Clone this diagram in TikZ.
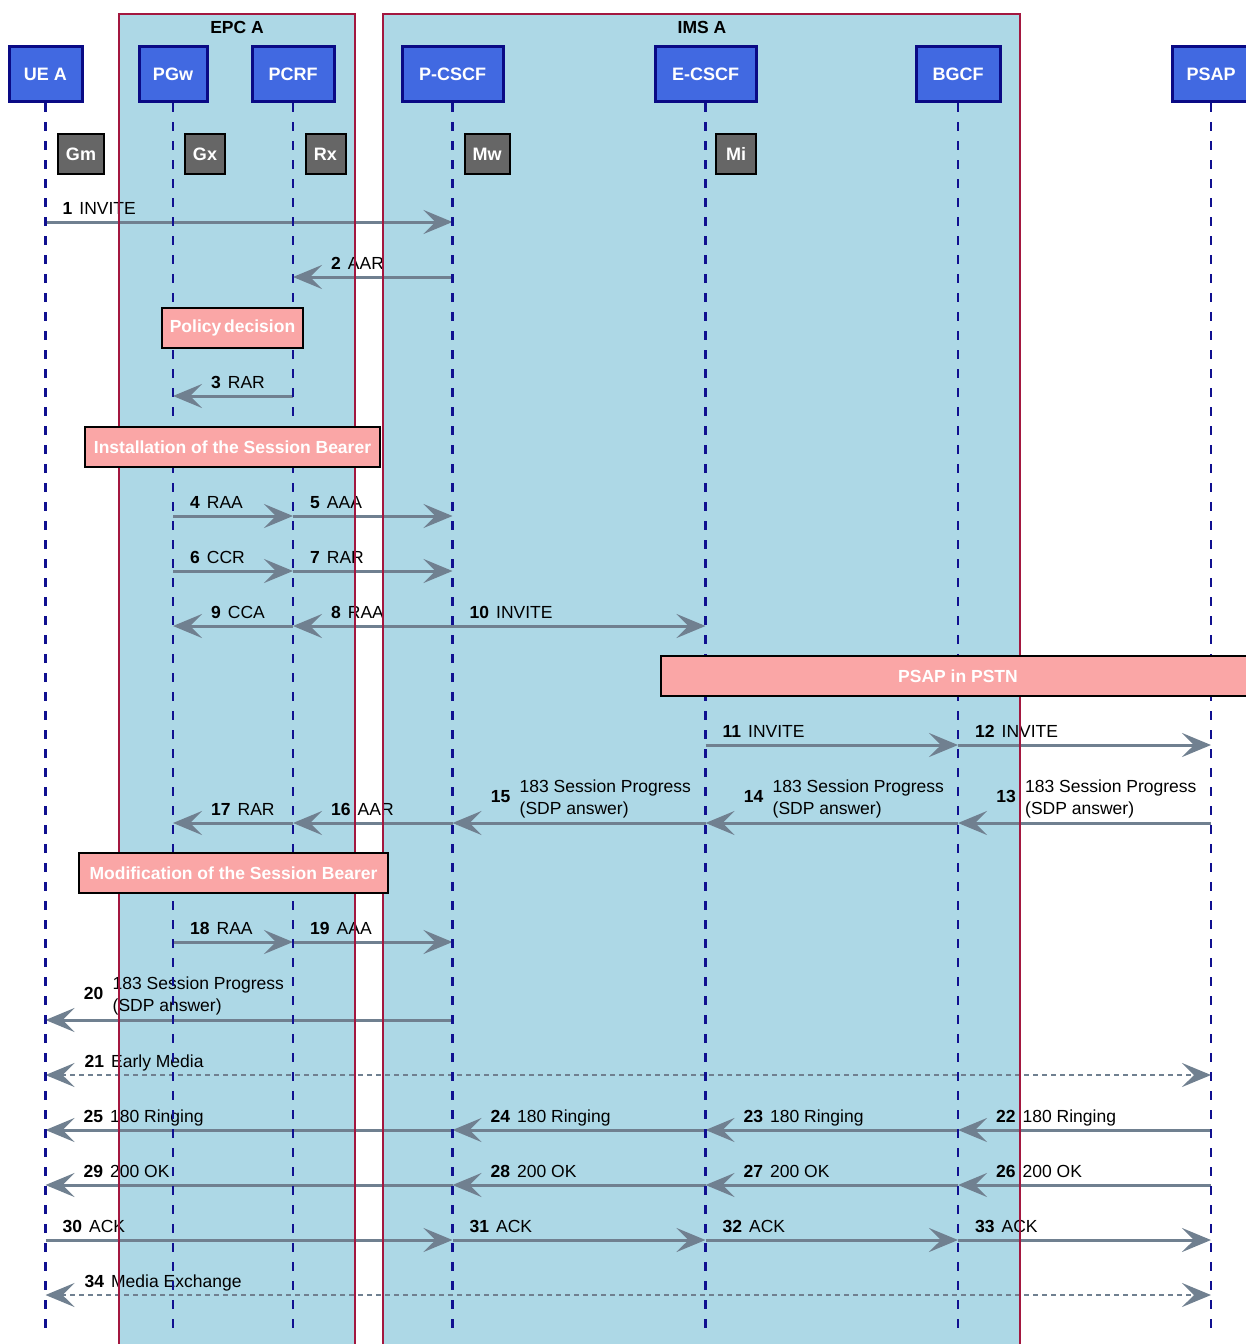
\documentclass[tikz,border=0pt]{standalone}
\usepackage{fontspec}
\setmainfont{Liberation Sans}
\usetikzlibrary{arrows.meta}

\definecolor{grpfill}{HTML}{ADD8E6}
\definecolor{grpline}{HTML}{A3173F}
\definecolor{actfill}{HTML}{4169E1}
\definecolor{actline}{HTML}{0A0A85}
\definecolor{lifeblue}{HTML}{101090}
\definecolor{ifgray}{HTML}{666666}
\definecolor{notefill}{HTML}{FAA6A6}
\definecolor{msggray}{HTML}{708090}

% one-line message to the right: label starts just after the sender
\newcommand\sendR[5]{%
  \draw[msg] (#1 |- #3) -- (#2 |- #3);
  \path (#1 |- #3) ++(17,-8) node[lbl]{\textbf{#4}\hspace{7pt}#5};}
% one-line message to the left: label placed after the arrow tip
\newcommand\sendL[5]{%
  \draw[msg] (#1 |- #3) -- (#2 |- #3);
  \path (#2 |- #3) ++(38,-8) node[lbl]{\textbf{#4}\hspace{7pt}#5};}
% two-line 183 Session Progress message to the left
\newcommand\sendLL[4]{%
  \draw[msg] (#1 |- #3) -- (#2 |- #3);
  \path (#2 |- #3) ++(58,-21) node[lbl,anchor=base east]{\textbf{#4}};
  \path (#2 |- #3) ++(67,-31) node[lbl]{183 Session Progress};
  \path (#2 |- #3) ++(67,-9) node[lbl]{(SDP answer)};}

\begin{document}
\begin{tikzpicture}[x=1pt,y=-1pt,
  actor/.style={draw=actline, line width=3pt, fill=actfill, text=white,
    font=\fontsize{18}{22}\selectfont\bfseries, minimum height=55pt, inner sep=0pt},
  iface/.style={draw=black, line width=2pt, fill=ifgray, text=white,
    font=\fontsize{18}{22}\selectfont\bfseries, minimum height=40pt,
    minimum width=40pt, inner xsep=8pt},
  note/.style={draw=black, line width=2pt, fill=notefill, text=white,
    font=\fontsize{17.5}{22}\selectfont\bfseries, minimum height=40pt, inner sep=0pt},
  grptitle/.style={font=\fontsize{17.5}{22}\selectfont\bfseries, inner sep=0pt},
  life/.style={draw=lifeblue, line width=2.5pt, dash pattern=on 9pt off 10pt},
  tipshape/.tip={Stealth[length=29pt,width=24pt,inset=12pt]},
  msg/.style={draw=msggray, line width=3pt, -tipshape},
  media/.style={draw=msggray, line width=2.5pt, dash pattern=on 5pt off 4pt,
    tipshape-tipshape},
  lbl/.style={anchor=base west, inner sep=0pt, font=\fontsize{17.5}{22}\selectfont},
]
\useasboundingbox (0,0) rectangle (1245,1344);

% domain backgrounds
\fill[grpfill] (119,14) rectangle (355,1350);
\fill[grpfill] (383,14) rectangle (1020,1350);
\node[grptitle] (epct) at (237,27) {EPC A};
\node[grptitle] (imst) at (702,27) {IMS A};

% participants
\node[actor, minimum width=73pt]  (ue)    at (45.5,74)  {UE A};
\node[actor, minimum width=68pt]  (pgw)   at (173,74)   {PGw};
\node[actor, minimum width=82pt]  (pcrf)  at (293,74)   {PCRF};
\node[actor, minimum width=101pt] (pcscf) at (452.5,74) {P-CSCF};
\node[actor, minimum width=101pt] (ecscf) at (705.5,74) {E-CSCF};
\node[actor, minimum width=84pt]  (bgcf)  at (958,74)   {BGCF};
\node[actor, minimum width=78pt]  (psap)  at (1211,74)  {PSAP};

% interface tags
\node[iface] (gm) at (81,154)    {Gm};
\node[iface] (gx) at (205,154)   {Gx};
\node[iface] (rx) at (325.5,154) {Rx};
\node[iface] (mw) at (487,154)   {Mw};
\node[iface] (mi) at (736,154)   {Mi};

% message rows
\coordinate (r1) at (0,222);
\coordinate (r2) at (0,277);
\coordinate (r3) at (0,396);
\coordinate (r4) at (0,516);
\coordinate (r5) at (0,571);
\coordinate (r6) at (0,626);
\coordinate (r7) at (0,745);
\coordinate (r8) at (0,823);
\coordinate (r9) at (0,942);
\coordinate (r10) at (0,1020);
\coordinate (r11) at (0,1075);
\coordinate (r12) at (0,1130);
\coordinate (r13) at (0,1185);
\coordinate (r14) at (0,1240);
\coordinate (r15) at (0,1295);
\coordinate (bot) at (0,1328);

% messages
\sendR{ue}{pcscf}{r1}{1}{INVITE}
\sendL{pcscf}{pcrf}{r2}{2}{AAR}
\sendL{pcrf}{pgw}{r3}{3}{RAR}
\sendR{pgw}{pcrf}{r4}{4}{RAA}
\sendR{pcrf}{pcscf}{r4}{5}{AAA}
\sendR{pgw}{pcrf}{r5}{6}{CCR}
\sendR{pcrf}{pcscf}{r5}{7}{RAR}
\sendL{pcrf}{pgw}{r6}{9}{CCA}
\sendL{pcscf}{pcrf}{r6}{8}{RAA}
\sendR{pcscf}{ecscf}{r6}{10}{INVITE}
\sendR{ecscf}{bgcf}{r7}{11}{INVITE}
\sendR{bgcf}{psap}{r7}{12}{INVITE}
\sendLL{psap}{bgcf}{r8}{13}
\sendLL{bgcf}{ecscf}{r8}{14}
\sendLL{ecscf}{pcscf}{r8}{15}
\sendL{pcscf}{pcrf}{r8}{16}{AAR}
\sendL{pcrf}{pgw}{r8}{17}{RAR}
\sendR{pgw}{pcrf}{r9}{18}{RAA}
\sendR{pcrf}{pcscf}{r9}{19}{AAA}
\sendLL{pcscf}{ue}{r10}{20}
\draw[media] (ue |- r11) -- (psap |- r11);
\path (ue |- r11) ++(39,-8) node[lbl]{\textbf{21}\hspace{7pt}Early Media};
\sendL{psap}{bgcf}{r12}{22}{180 Ringing}
\sendL{bgcf}{ecscf}{r12}{23}{180 Ringing}
\sendL{ecscf}{pcscf}{r12}{24}{180 Ringing}
\sendL{pcscf}{ue}{r12}{25}{180 Ringing}
\sendL{psap}{bgcf}{r13}{26}{200 OK}
\sendL{bgcf}{ecscf}{r13}{27}{200 OK}
\sendL{ecscf}{pcscf}{r13}{28}{200 OK}
\sendL{pcscf}{ue}{r13}{29}{200 OK}
\sendR{ue}{pcscf}{r14}{30}{ACK}
\sendR{pcscf}{ecscf}{r14}{31}{ACK}
\sendR{ecscf}{bgcf}{r14}{32}{ACK}
\sendR{bgcf}{psap}{r14}{33}{ACK}
\draw[media] (ue |- r15) -- (psap |- r15);
\path (ue |- r15) ++(39,-8) node[lbl]{\textbf{34}\hspace{7pt}Media Exchange};

% lifelines
\foreach \p in {ue,pgw,pcrf,pcscf,ecscf,bgcf,psap}
  \draw[life] (\p.south) -- (\p |- bot);

% domain borders
\draw[grpline, line width=2pt] (119,1350) -- (119,14) -- (355,14) -- (355,1350);
\draw[grpline, line width=2pt] (383,1350) -- (383,14) -- (1020,14) -- (1020,1350);

% procedure notes
\node[note, minimum width=141pt] (policy) at (232.5,328) {Policy\,decision};
\node[note, minimum width=295pt] (install) at (232.5,447) {Installation of the Session Bearer};
\node[note, minimum width=594pt] (pstn) at (958,676) {PSAP in PSTN};
\node[note, minimum width=309pt] (modify) at (233.5,873) {Modification of the Session Bearer};
\end{tikzpicture}
\end{document}
